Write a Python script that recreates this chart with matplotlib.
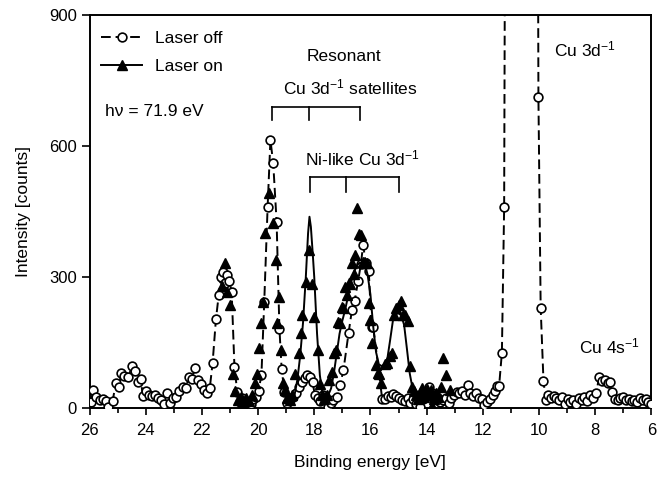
import matplotlib
matplotlib.use('Agg')
import matplotlib.pyplot as plt
from matplotlib.lines import Line2D
from matplotlib.ticker import MultipleLocator

plt.rcParams['font.family'] = ['Liberation Sans', 'DejaVu Sans']
plt.rcParams['mathtext.fontset'] = 'custom'
plt.rcParams['mathtext.rm'] = 'Liberation Sans'
plt.rcParams['mathtext.default'] = 'regular'

# laser off: binding energy [eV] and counts (points above 900 are off scale)
off_energy = [25.96, 25.86, 25.76, 25.64, 25.52, 25.42, 25.34, 25.18, 25.06, 24.96,
              24.87, 24.76, 24.62, 24.48, 24.38, 24.28, 24.18, 24.10, 23.98, 23.88,
              23.76, 23.66, 23.56, 23.46, 23.34, 23.24, 23.12, 23.02, 22.92, 22.80,
              22.68, 22.58, 22.46, 22.36, 22.24, 22.14, 22.02, 21.92, 21.82, 21.72,
              21.62, 21.50, 21.40, 21.32, 21.26, 21.18, 21.10, 21.02, 20.94, 20.84,
              20.74, 20.66, 20.58, 20.50, 20.42, 20.34, 20.26, 20.18, 20.08, 19.98,
              19.88, 19.78, 19.66, 19.56, 19.46, 19.34, 19.24, 19.16, 19.06, 18.96,
              18.86, 18.76, 18.66, 18.54, 18.44, 18.34, 18.26, 18.16, 18.06, 17.98,
              17.88, 17.78, 17.68, 17.60, 17.52, 17.42, 17.32, 17.20, 17.08, 16.96,
              16.78, 16.66, 16.56, 16.44, 16.34, 16.26, 16.16, 16.06, 15.96, 15.90,
              15.58, 15.48, 15.38, 15.28, 15.18, 15.08, 14.98, 14.88, 14.78, 14.68,
              14.58, 14.48, 14.38, 14.28, 14.22, 14.12, 14.02, 13.92, 13.82, 13.72,
              13.62, 13.52, 13.42, 13.32, 13.22, 13.12, 13.02, 12.92, 12.84, 12.74,
              12.64, 12.54, 12.44, 12.34, 12.24, 12.14, 12.04, 11.94, 11.84, 11.74,
              11.64, 11.56, 11.48, 11.42, 11.32, 11.24, 11.14, 10.90, 10.60, 10.30,
              10.10, 10.02, 9.94, 9.84, 9.76, 9.68, 9.58, 9.48, 9.38, 9.28,
              9.18, 9.08, 8.98, 8.88, 8.78, 8.68, 8.58, 8.48, 8.38, 8.28,
              8.18, 8.08, 7.96, 7.86, 7.76, 7.66, 7.56, 7.48, 7.40, 7.30,
              7.20, 7.10, 7.00, 6.90, 6.80, 6.70, 6.60, 6.50, 6.40, 6.30,
              6.20, 6.12, 6.02]
off_counts = [14, 42, 25, 18, 20, 16, 3, 15, 58, 48,
              80, 74, 72, 96, 84, 60, 66, 28, 38, 30,
              27, 29, 22, 18, 10, 34, 12, 24, 26, 38,
              48, 45, 70, 66, 91, 64, 55, 42, 34, 45,
              102, 203, 259, 300, 312, 286, 305, 290, 266, 93,
              37, 14, 22, 17, 5, 14, 9, 20, 26, 40,
              76, 243, 460, 614, 560, 427, 182, 89, 37, 12,
              20, 26, 34, 49, 60, 68, 76, 72, 60, 30,
              22, 15, 30, 26, 3, 12, 18, 26, 53, 87,
              171, 224, 246, 290, 330, 373, 331, 314, 186, 186,
              20, 20, 28, 26, 32, 28, 22, 18, 17, 24,
              12, 20, 10, 26, 3, 20, 30, 49, 34, 20,
              26, 14, 18, 24, 12, 22, 30, 37, 34, 40,
              30, 52, 34, 28, 34, 22, 20, 8, 14, 20,
              30, 40, 50, 50, 127, 460, 2600, 5000, 6000, 5000,
              2600, 713, 230, 62, 18, 30, 22, 28, 22, 18,
              26, 9, 20, 14, 18, 9, 22, 18, 26, 16,
              30, 24, 34, 72, 62, 64, 58, 60, 37, 20,
              18, 22, 26, 18, 20, 16, 18, 14, 22, 18,
              20, 14, 9]

# laser on: measured points
on_energy = [21.30, 21.18, 21.10, 21.00, 20.90, 20.82, 20.72, 20.62, 20.52, 20.42,
             20.32, 20.22, 20.12, 20.04, 19.96, 19.88, 19.82, 19.74, 19.62, 19.46,
             19.37, 19.31, 19.25, 19.17, 19.11, 19.04, 18.96, 18.88, 18.80, 18.68,
             18.56, 18.48, 18.42, 18.29, 18.20, 18.08, 18.00, 17.88, 17.80, 17.72,
             17.64, 17.56, 17.47, 17.38, 17.30, 17.22, 17.16, 17.08, 17.02, 16.96,
             16.90, 16.84, 16.78, 16.72, 16.66, 16.60, 16.54, 16.48, 16.40, 16.34,
             16.26, 16.20, 16.12, 16.06, 16.00, 15.95, 15.80, 15.74, 15.68, 15.62,
             15.48, 15.40, 15.32, 15.24, 15.16, 15.08, 15.00, 14.92, 14.84, 14.76,
             14.68, 14.60, 14.52, 14.45, 14.38, 14.30, 14.22, 14.15, 14.08, 14.00,
             13.92, 13.86, 13.82, 13.74, 13.66, 13.58, 13.48, 13.40, 13.30, 13.15]
on_counts = [280, 331, 265, 236, 79, 40, 18, 25, 12, 22,
             15, 30, 57, 79, 138, 195, 243, 401, 493, 423,
             339, 194, 255, 133, 57, 41, 22, 18, 30, 79,
             125, 171, 213, 289, 362, 285, 209, 133, 55, 30,
             20, 30, 64, 83, 125, 133, 198, 194, 232, 228,
             278, 259, 287, 285, 331, 308, 350, 457, 398, 396,
             334, 333, 333, 240, 201, 148, 98, 81, 79, 57,
             101, 102, 119, 125, 213, 230, 236, 246, 213, 213,
             200, 96, 49, 40, 30, 20, 35, 45, 25, 43,
             30, 41, 5, 20, 35, 25, 47, 114, 76, 41]

# laser on: fitted curve
fit_energy = [18.95, 18.80, 18.70, 18.60, 18.50, 18.40, 18.30, 18.22, 18.17, 18.12,
              18.05, 18.00, 17.90, 17.80, 17.70, 17.60, 17.50, 17.40, 17.30, 17.20,
              17.10, 17.00, 16.90, 16.80, 16.70, 16.60, 16.50, 16.40, 16.30, 16.20,
              16.10, 16.00, 15.90, 15.80, 15.70, 15.60, 15.50, 15.40, 15.30, 15.20,
              15.10, 15.00, 14.90, 14.80, 14.70, 14.60, 14.50, 14.40, 14.30]
fit_counts = [12, 15, 30, 65, 120, 195, 300, 400, 438, 415,
              350, 300, 170, 75, 30, 15, 30, 45, 80, 125,
              170, 200, 225, 255, 285, 308, 325, 332, 333, 330,
              305, 260, 186, 128, 100, 96, 100, 112, 155, 200,
              215, 217, 212, 190, 135, 79, 45, 30, 20]

fig = plt.figure(figsize=(6.66, 4.78), dpi=100)
ax = fig.add_axes([0.1344, 0.1464, 0.8436, 0.8222])

ax.plot(off_energy, off_counts, color='black', lw=1.4, linestyle=(0, (5, 2.5)),
        marker='o', ms=6.3, mfc='white', mec='black', mew=1.2, zorder=3)
ax.plot(fit_energy, fit_counts, color='black', lw=1.4, zorder=3.5)
ax.plot(on_energy, on_counts, linestyle='none', marker='^', ms=6.8, color='black', zorder=4)

ax.set_xlim(26, 6)
ax.set_ylim(0, 900)
ax.xaxis.set_major_locator(MultipleLocator(2))
ax.xaxis.set_minor_locator(MultipleLocator(1))
ax.set_yticks([0, 300, 600, 900])
ax.tick_params(axis='x', which='major', direction='out', length=5, width=1.2, pad=6, labelsize=12)
ax.tick_params(axis='x', which='minor', direction='out', length=3.5, width=1.2)
ax.tick_params(axis='y', direction='out', length=6, width=1.2, pad=3, labelsize=12)
for s in ax.spines.values():
    s.set_linewidth(1.4)

ax.set_xlabel('Binding energy [eV]', fontsize=12.5)
ax.set_ylabel('Intensity [counts]', fontsize=12.5)
ax.xaxis.set_label_coords(0.5, -0.12)
ax.yaxis.set_label_coords(-0.105, 0.5)

handles = [Line2D([], [], color='black', lw=1.4, linestyle=(0, (5, 2.5)), marker='o',
                  ms=6.3, mfc='white', mec='black', mew=1.2),
           Line2D([], [], color='black', lw=1.4, marker='^', ms=6.8)]
ax.legend(handles, ['Laser off', 'Laser on'], loc='upper left', bbox_to_anchor=(0.02, 0.96),
          frameon=False, fontsize=12.5, handlelength=2.4, handletextpad=0.7,
          labelspacing=0.75, borderpad=0, borderaxespad=0)

ax.text(25.46, 678, 'hν = 71.9 eV', fontsize=12.5, ha='left', va='center')
ax.text(16.95, 804, 'Resonant', fontsize=12.5, ha='center', va='center')
ax.text(16.7, 735, 'Cu 3d$^{-1}$ satellites', fontsize=12.5, ha='center', va='center')
ax.text(16.29, 572, 'Ni-like Cu 3d$^{-1}$', fontsize=12.5, ha='center', va='center')
ax.text(9.48, 820, 'Cu 3d$^{-1}$', fontsize=12.5, ha='left', va='center')
ax.text(8.56, 140, 'Cu 4s$^{-1}$', fontsize=12.5, ha='left', va='center')

# brackets marking the satellite groups
res_ticks = [19.49, 18.2, 16.36]
ni_ticks = [18.14, 16.86, 15.0]
for marks, top, low in [(res_ticks, 689, 659), (ni_ticks, 529, 495)]:
    ax.plot([marks[0], marks[-1]], [top, top], color='black', lw=1.2)
    for m in marks:
        ax.plot([m, m], [top, low], color='black', lw=1.2)

fig.savefig('out.png', dpi=100)
